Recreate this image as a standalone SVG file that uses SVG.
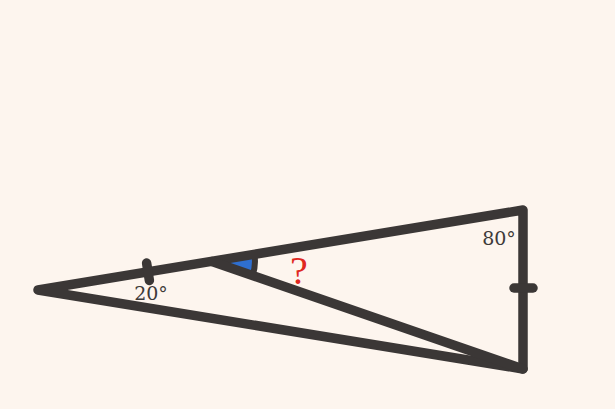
<svg xmlns="http://www.w3.org/2000/svg" width="615" height="409" viewBox="0 0 615 409">
<style>
.ln{fill:none;stroke:#3b3736;stroke-width:9.5;stroke-linecap:round;stroke-linejoin:round}
.lbl{font-family:"DejaVu Serif","Liberation Serif",serif;font-size:19px;fill:#3d3a39;text-anchor:middle}
</style>
<rect width="615" height="409" fill="#fdf5ee"/>
<g id="angle-mark">
<path d="M212,261.5 L254.4,254.5 A43,43 0 0 1 252.6,275.5 Z" fill="#2f6fd0" stroke="#3b3736" stroke-width="6" stroke-linejoin="round"/>
</g>
<g id="connectors">
<path class="ln" d="M38,290 L523,210 L523,369 Z"/>
<path class="ln" d="M212,261.5 L523,369"/>
<path class="ln" d="M146.6,263 L149.4,280.5"/>
<path class="ln" d="M514,288 L533,288"/>
</g>
<g id="labels">
<text class="lbl" x="151" y="300">20°</text>
<text class="lbl" x="499" y="245">80°</text>
<text x="299" y="284" font-family="Liberation Serif,DejaVu Serif,serif" font-size="40" fill="#e0281f" text-anchor="middle">?</text>
</g>
</svg>
